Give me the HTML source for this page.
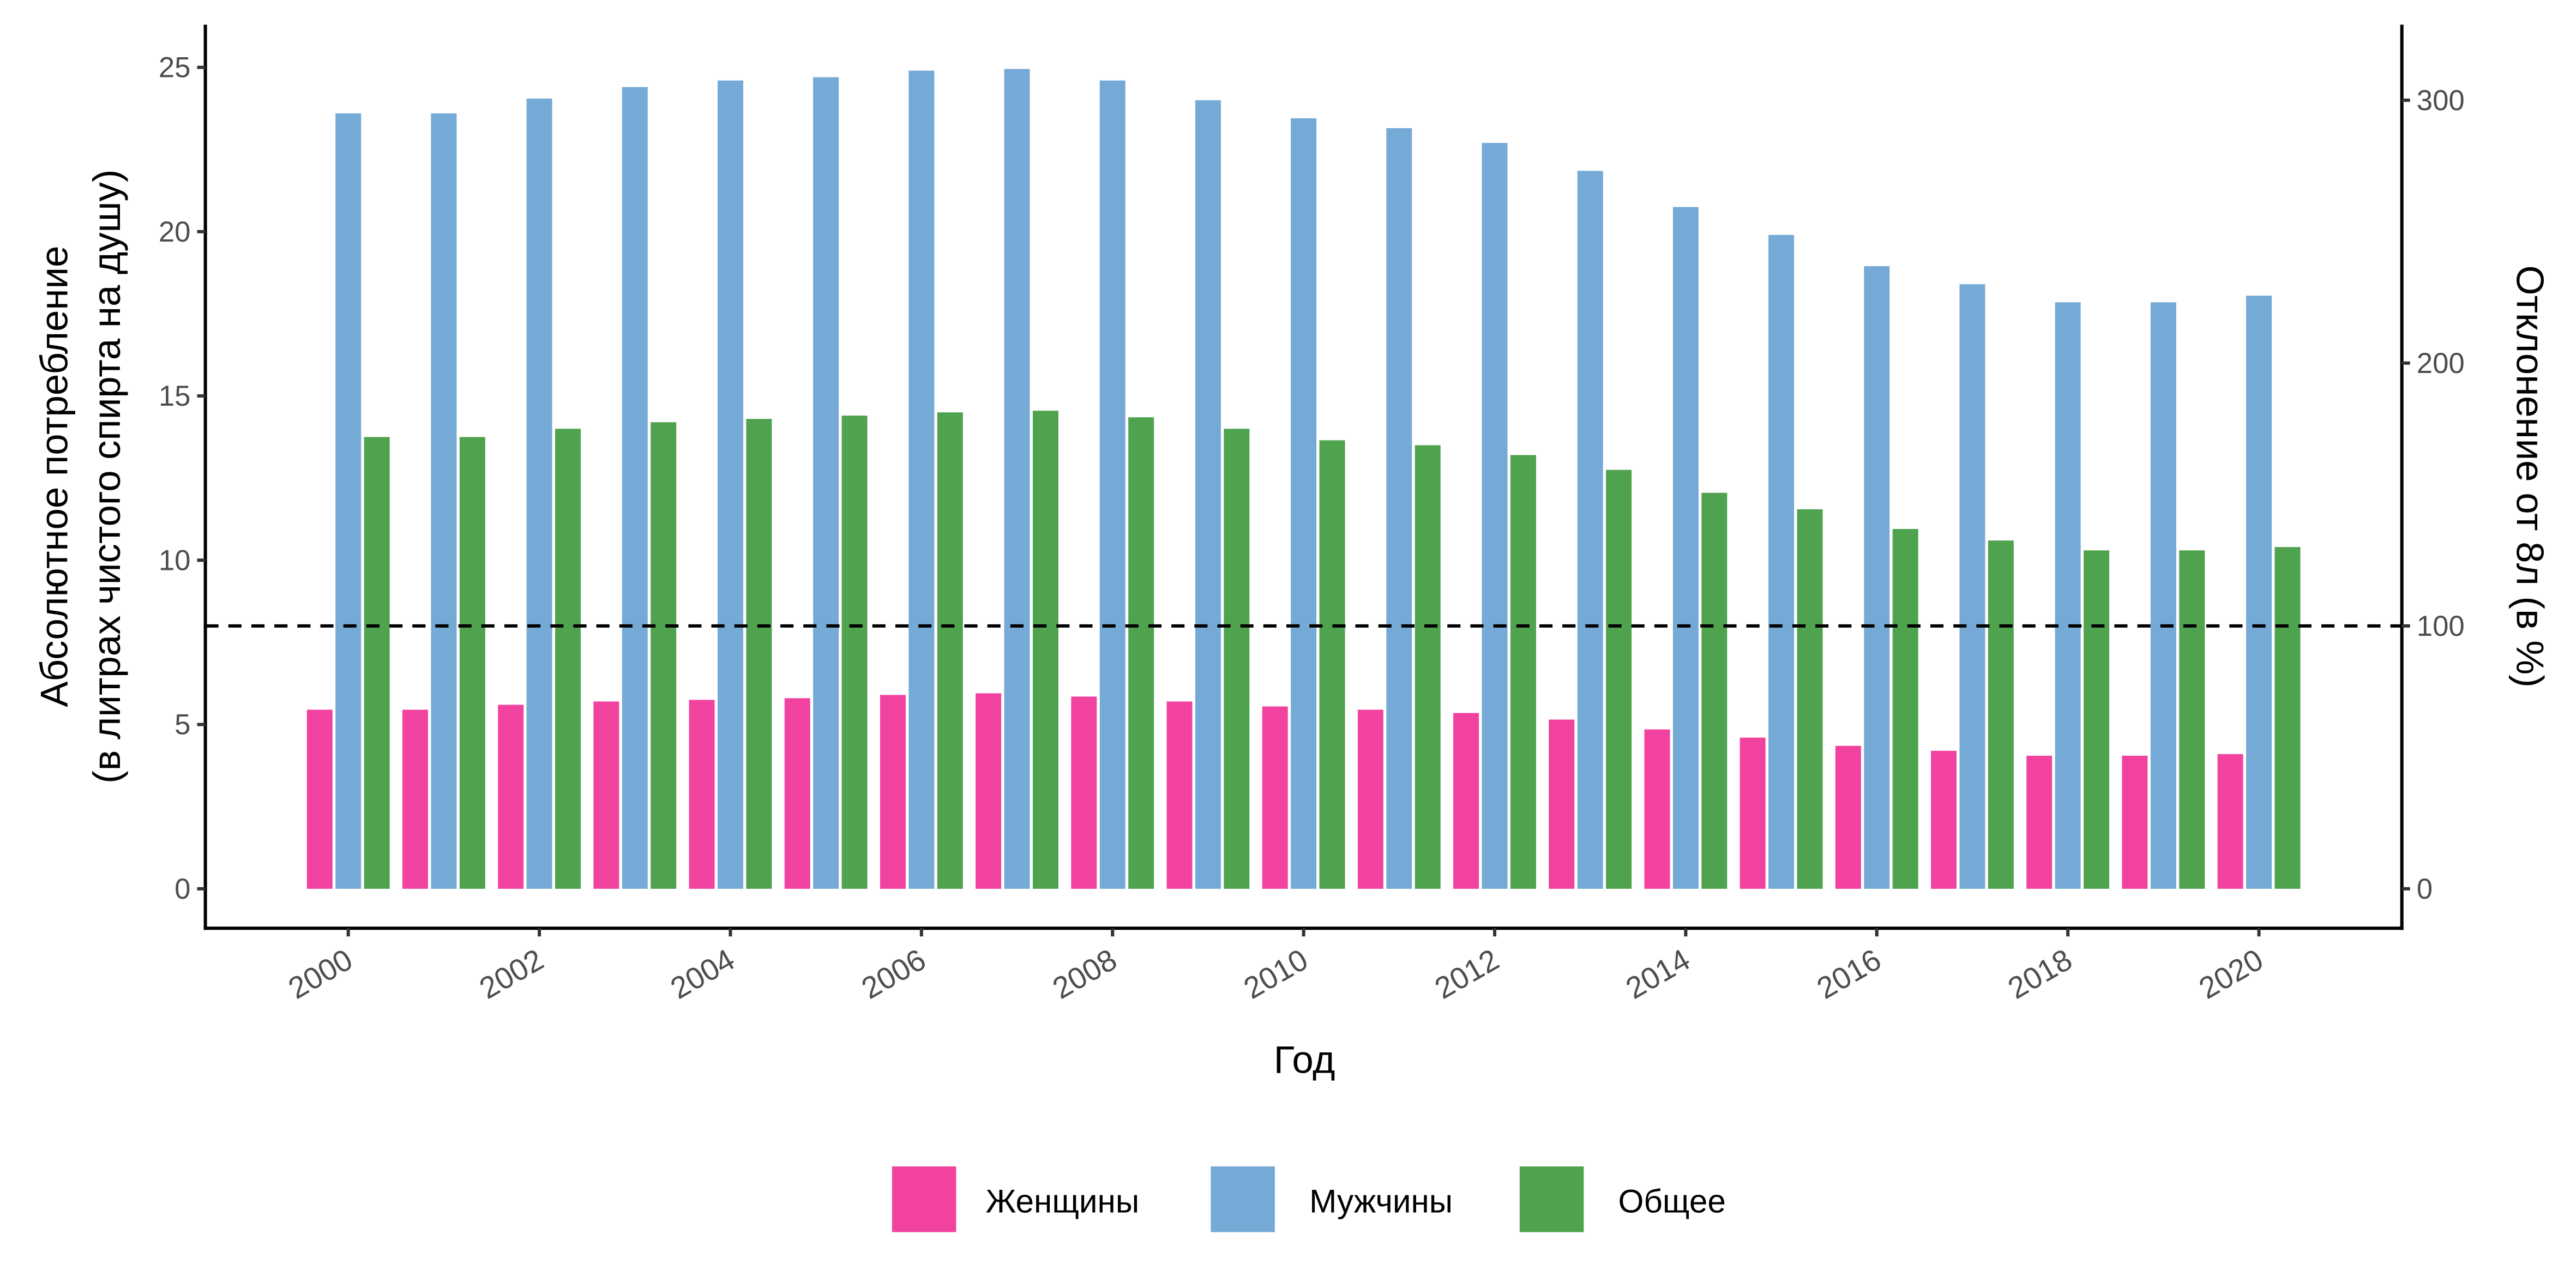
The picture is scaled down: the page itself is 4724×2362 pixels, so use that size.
<!DOCTYPE html>
<html><head><meta charset="utf-8"><style>
html,body{margin:0;padding:0;background:#fff}
svg{display:block}
text{font-family:"Liberation Sans",sans-serif}
</style></head><body>
<svg id="chart" width="4724" height="2362" viewBox="0 0 1568 784">
<g id="bars"></g>
<g id="axes"></g>
</svg>
<script>
const years = [2000,2001,2002,2003,2004,2005,2006,2007,2008,2009,2010,2011,2012,2013,2014,2015,2016,2017,2018,2019,2020];
const women = [5.45,5.45,5.6,5.7,5.75,5.8,5.9,5.95,5.85,5.7,5.55,5.45,5.35,5.15,4.85,4.6,4.35,4.2,4.05,4.05,4.1];
const men = [23.6,23.6,24.05,24.4,24.6,24.7,24.9,24.95,24.6,24.0,23.45,23.15,22.7,21.85,20.75,19.9,18.95,18.4,17.85,17.85,18.05];
const total = [13.75,13.75,14.0,14.2,14.3,14.4,14.5,14.55,14.35,14.0,13.65,13.5,13.2,12.75,12.05,11.55,10.95,10.6,10.3,10.3,10.4];
const leftTicks = [0,5,10,15,20,25];
const rightTicks = [0,100,200,300];
const xTicks = [2000,2002,2004,2006,2008,2010,2012,2014,2016,2018,2020];
const refLine = 8;
const seriesNames = ["Женщины","Мужчины","Общее"];

const NS="http://www.w3.org/2000/svg";
const L=125,R=1462,T=15,B=565;
const y=v=>541-v*20;
const yPct=p=>541-p*1.6;
const x=yr=>212+(yr-2000)*58.15;
const colors=["#F242A0","#75A9D6","#4FA24E"];
const series=[women,men,total];
const bw=17.4;
function mk(tag,attrs,parent,txt){const e=document.createElementNS(NS,tag);for(const k in attrs)e.setAttribute(k,attrs[k]);if(txt!==undefined)e.textContent=txt;parent.appendChild(e);return e;}
const bars=document.getElementById('bars'), axes=document.getElementById('axes');
years.forEach((yr,i)=>{
  series.forEach((s,j)=>{
    const x0=x(yr)-1.5*bw+j*bw;
    const r=mk('rect',{x:x0+0.9,y:y(s[i]),width:bw-1.8,height:y(0)-y(s[i]),fill:colors[j]},bars);
    
    
  });
});
const dl=mk('line',{x1:L,x2:R,y1:y(refLine),y2:y(refLine),stroke:'#000','stroke-width':2,'stroke-dasharray':'8,6'},axes);


mk('line',{x1:L,x2:L,y1:T,y2:B+1,stroke:'#000','stroke-width':2},axes);
mk('line',{x1:R,x2:R,y1:T,y2:B+1,stroke:'#000','stroke-width':2},axes);
mk('line',{x1:L-1,x2:R+1,y1:B,y2:B,stroke:'#000','stroke-width':2},axes);
leftTicks.forEach(v=>{
  mk('line',{x1:L-5,x2:L,y1:y(v),y2:y(v),stroke:'#333','stroke-width':2},axes);
  const t=mk('text',{x:L-9,y:y(v)+6,'text-anchor':'end','font-size':17.5,fill:'#4d4d4d'},axes,v);
  
  
});
rightTicks.forEach(v=>{
  mk('line',{x1:R,x2:R+5,y1:yPct(v),y2:yPct(v),stroke:'#333','stroke-width':2},axes);
  const t=mk('text',{x:R+9,y:yPct(v)+6,'text-anchor':'start','font-size':17.5,fill:'#4d4d4d'},axes,v);
  
  
});
xTicks.forEach(v=>{
  mk('line',{x1:x(v),x2:x(v),y1:B,y2:B+5,stroke:'#333','stroke-width':2},axes);
  const t=mk('text',{x:0,y:0,'text-anchor':'end','font-size':18.5,fill:'#4d4d4d',transform:`translate(${x(v)+4},${B+23}) rotate(-30)`},axes,v);
  
  
});
</script>
<script>
const s=document.getElementById('chart');
function tx(attrs,txt,name){const e=document.createElementNS("http://www.w3.org/2000/svg",'text');for(const k in attrs)e.setAttribute(k,attrs[k]);e.textContent=txt;s.appendChild(e);

return e;}
tx({x:0,y:0,'text-anchor':'middle','font-size':23.5,fill:'#000',transform:'translate(41,290) rotate(-90)'},'Абсолютное потребление','y-left-title-line1');
tx({x:0,y:0,'text-anchor':'middle','font-size':23.5,fill:'#000',transform:'translate(73,290) rotate(-90)'},'(в литрах чистого спирта на душу)','y-left-title-line2');
tx({x:0,y:0,'text-anchor':'middle','font-size':23.5,fill:'#000',transform:'translate(1532,290) rotate(90)'},'Отклонение от 8л (в %)','y-right-title');
tx({x:794,y:653,'text-anchor':'middle','font-size':23.5,fill:'#000'},'Год','x-axis-title');
const leg=[[543,600,"#F242A0","Женщины"],[737,797,"#75A9D6","Мужчины"],[925,985,"#4FA24E","Общее"]];
leg.forEach(l=>{
  const r=document.createElementNS("http://www.w3.org/2000/svg",'rect');
  r.setAttribute('x',l[0]);r.setAttribute('y',710);r.setAttribute('width',39);r.setAttribute('height',40);r.setAttribute('fill',l[2]);
  
  
  s.appendChild(r);
  tx({x:l[1],y:738,'font-size':20,fill:'#000'},l[3],'legend-label');
});
</script>
</body></html>
